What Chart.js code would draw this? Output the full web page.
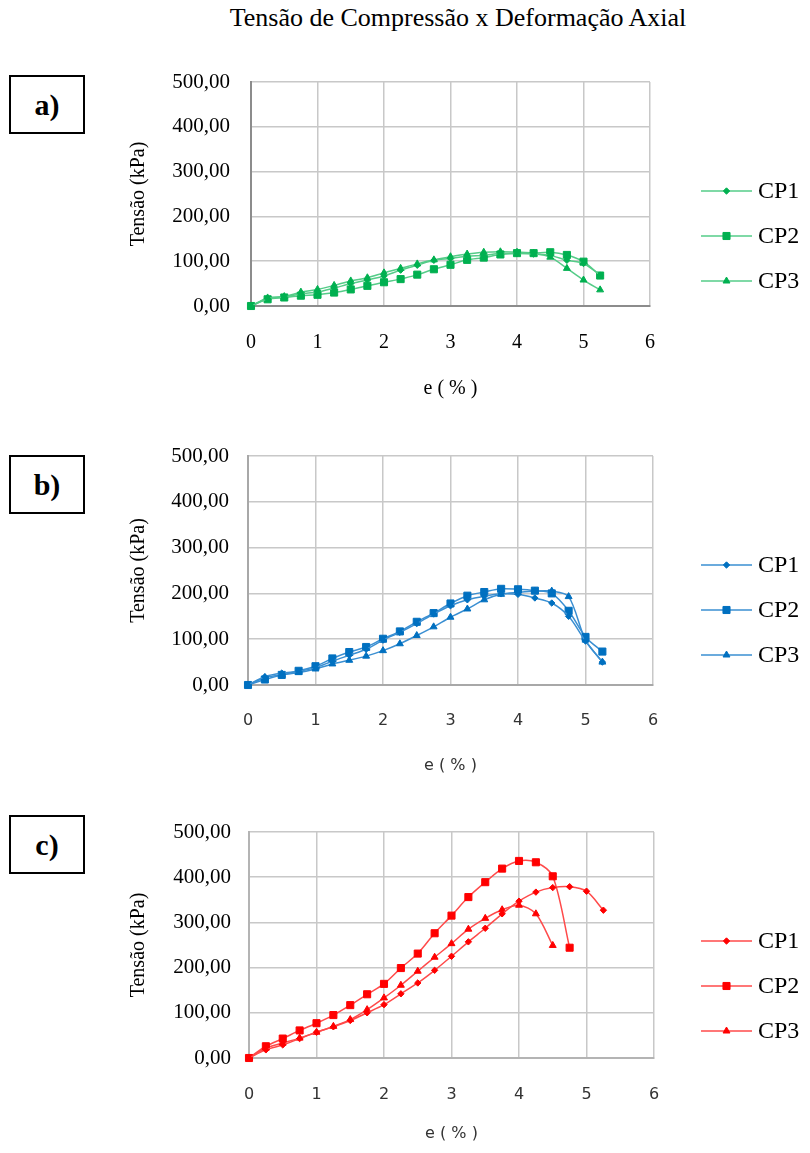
<!DOCTYPE html>
<html>
<head>
<meta charset="utf-8">
<script src="https://cdn.jsdelivr.net/npm/chart.js@4"></script>
<style>
  html, body { margin: 0; padding: 0; background: #fff; }
  #page { position: relative; width: 810px; height: 1153px; overflow: hidden; background: #fff; }
  #title {
    position: absolute; left: 458px; top: 4px; transform: translateX(-50%);
    font-family: 'Liberation Serif', 'Times New Roman', serif; font-size: 26px;
    line-height: 28px; white-space: nowrap; color: #000;
  }
  .tag {
    position: absolute; left: 9px; width: 76px; height: 59px; box-sizing: border-box;
    border: 2px solid #000; display: flex; align-items: center; justify-content: center;
    font-family: 'Liberation Serif', 'Times New Roman', serif; font-weight: bold;
    font-size: 30px; color: #000;
  }
  canvas { position: absolute; left: 0; }
</style>
</head>
<body>
<div id="page">
  <div id="title">Tensão de Compressão x Deformação Axial</div>
  <div class="tag" style="top:75px">a)</div>
  <div class="tag" style="top:455px">b)</div>
  <div class="tag" style="top:815px">c)</div>
  <canvas id="chartA" width="810" height="370" style="top:40px"></canvas>
  <canvas id="chartB" width="810" height="370" style="top:420px"></canvas>
  <canvas id="chartC" width="810" height="363" style="top:790px"></canvas>
</div>
<script>
// Axial strain e (%) at each reading
const strain = [0, 0.25, 0.5, 0.75, 1, 1.25, 1.5, 1.75, 2, 2.25, 2.5, 2.75,
                3, 3.25, 3.5, 3.75, 4, 4.25, 4.5, 4.75, 5, 5.25];

const seriesNames = ['CP1', 'CP2', 'CP3'];

// Compressive stress (kPa) – group a)
const stressA_CP1 = [0, 16, 20, 27, 31, 40, 50, 58, 67, 80, 91, 102, 106, 111, 113, 117, 117, 116, 113, 102, 95, 69];
const stressA_CP2 = [0, 15, 19, 23, 25, 30, 37, 45, 53, 60, 70, 82, 92, 103, 108, 115, 118, 118, 120, 114, 99, 68];
const stressA_CP3 = [0, 18, 21, 31, 37, 46, 56, 63, 74, 84, 94, 103, 110, 116, 120, 121, 120, 118, 109, 84, 58, 36];

// Compressive stress (kPa) – group b)
const stressB_CP1 = [0, 18, 26, 30, 38, 52, 65, 78, 98, 115, 134, 155, 173, 186, 194, 199, 198, 190, 179, 150, 96, 50];
const stressB_CP2 = [0, 12, 22, 31, 41, 58, 72, 83, 101, 117, 138, 157, 178, 195, 203, 210, 209, 206, 200, 162, 105, 73];
const stressB_CP3 = [0, 16, 22, 27, 35, 46, 54, 63, 75, 90, 108, 127, 148, 166, 186, 198, 202, 205, 205, 193, 98, 50];

// Compressive stress (kPa) – group c)
const stressC_CP1 = [0, 18, 29, 43, 57, 69, 83, 100, 118, 142, 166, 194, 225, 257, 287, 319, 347, 367, 377, 379, 369, 327];
const stressC_CP2 = [0, 26, 43, 61, 77, 95, 117, 141, 164, 199, 231, 276, 315, 356, 389, 419, 436, 433, 402, 244];
const stressC_CP3 = [0, 22, 33, 44, 57, 70, 85, 107, 133, 161, 192, 223, 253, 285, 309, 328, 338, 319, 249];

const xTicks = [0, 1, 2, 3, 4, 5, 6];
const yTicks = [0, 100, 200, 300, 400, 500];

const SERIF = "'Liberation Serif', 'Times New Roman', serif";
const SANS = "'DejaVu Sans', Verdana, sans-serif";

function toPoints(values) {
  return values.map((v, i) => ({ x: strain[i], y: v }));
}

// Marker shapes used both on the plot and in the side legend
const markerStyles = [
  { pointStyle: 'rectRot', radius: 3.2 },
  { pointStyle: 'rect', radius: 5.0 },
  { pointStyle: 'triangle', radius: 4.0 }
];

function drawMarker(ctx, style, r, x, y, color) {
  ctx.save();
  ctx.fillStyle = color;
  ctx.strokeStyle = color;
  ctx.lineWidth = 1;
  ctx.beginPath();
  if (style === 'rect') {
    const s = Math.SQRT1_2 * r;
    ctx.rect(x - s, y - s, 2 * s, 2 * s);
  } else if (style === 'rectRot') {
    ctx.moveTo(x, y - r); ctx.lineTo(x + r, y); ctx.lineTo(x, y + r); ctx.lineTo(x - r, y);
    ctx.closePath();
  } else {
    const h = r * 1.5, w = r * Math.sqrt(3) / 2;
    ctx.moveTo(x, y - r); ctx.lineTo(x + w, y + r / 2); ctx.lineTo(x - w, y + r / 2);
    ctx.closePath();
  }
  ctx.fill();
  ctx.stroke();
  ctx.restore();
}

// Side legend: short line with the marker, followed by the series name
const sideLegend = {
  id: 'sideLegend',
  afterDraw(chart, args, opts) {
    const ctx = chart.ctx;
    chart.data.datasets.forEach((ds, i) => {
      const y = opts.firstY + i * opts.gap;
      ctx.save();
      ctx.strokeStyle = ds.borderColor;
      ctx.lineWidth = ds.borderWidth;
      ctx.beginPath();
      ctx.moveTo(opts.x1, y);
      ctx.lineTo(opts.x2, y);
      ctx.stroke();
      ctx.restore();
      drawMarker(ctx, ds.pointStyle, ds.pointRadius, (opts.x1 + opts.x2) / 2, y, ds.pointBackgroundColor);
      ctx.save();
      ctx.fillStyle = '#000';
      ctx.font = '24px ' + SERIF;
      ctx.textBaseline = 'middle';
      ctx.textAlign = 'left';
      ctx.fillText(ds.label, opts.textX, y + 1);
      ctx.restore();
    });
  }
};

function buildChart(id, p) {
  const datasets = p.series.map((vals, i) => ({
    label: seriesNames[i],
    data: toPoints(vals),
    borderColor: p.lineColor,
    borderWidth: 1.5,
    backgroundColor: p.markColor,
    pointBackgroundColor: p.markColor,
    pointBorderColor: p.markColor,
    pointBorderWidth: 1,
    pointStyle: markerStyles[i].pointStyle,
    pointRadius: markerStyles[i].radius,
    tension: 0.3,
    clip: false
  }));

  return new Chart(document.getElementById(id), {
    type: 'line',
    data: { datasets },
    plugins: [sideLegend],
    options: {
      responsive: false,
      animation: false,
      devicePixelRatio: 1,
      layout: { padding: { top: p.padTop, right: p.padRight, left: 0, bottom: 0 } },
      plugins: {
        legend: { display: false },
        title: { display: false },
        tooltip: { enabled: false },
        sideLegend: { x1: 701, x2: 752, textX: 758, firstY: p.legendY, gap: 45 }
      },
      scales: {
        x: {
          type: 'linear',
          min: xTicks[0],
          max: xTicks[xTicks.length - 1],
          afterFit(scale) { scale.height = p.xAxisHeight; },
          afterBuildTicks(scale) { scale.ticks = xTicks.map(v => ({ value: v })); },
          grid: { color: '#c8c8c8', lineWidth: 1.5, drawTicks: false },
          border: { color: p.axisColor, width: 2 },
          ticks: {
            padding: p.xTickPad,
            color: p.xTickColor,
            font: { family: p.xFont, size: p.xFontSize },
            maxRotation: 0,
            callback: v => String(v)
          },
          title: {
            display: true,
            text: 'e ( % )',
            color: p.xTickColor,
            font: { family: p.xFont, size: p.xFontSize },
            padding: { top: 0, bottom: p.xTitlePad }
          }
        },
        y: {
          type: 'linear',
          min: yTicks[0],
          max: yTicks[yTicks.length - 1],
          afterFit(scale) { scale.width = p.yAxisWidth; },
          afterBuildTicks(scale) { scale.ticks = yTicks.map(v => ({ value: v })); },
          grid: { color: '#c8c8c8', lineWidth: 1.5, drawTicks: false },
          border: { color: p.axisColor, width: 2 },
          ticks: {
            padding: p.yTickPad,
            color: '#000',
            font: { family: SERIF, size: 21 },
            callback: v => v.toFixed(2).replace('.', ',')
          },
          title: {
            display: true,
            text: 'Tensão (kPa)',
            color: '#000',
            font: { family: SERIF, size: 20 },
            padding: { top: 127, bottom: 0 }
          }
        }
      }
    }
  });
}

buildChart('chartA', {
  series: [stressA_CP1, stressA_CP2, stressA_CP3],
  markColor: '#00b050', lineColor: '#55cc88', axisColor: '#8c8c8c',
  padTop: 42, padRight: 160, yAxisWidth: 251, xAxisHeight: 104,
  yTickPad: 21, xTickPad: 25, xTitlePad: 9,
  xFont: SERIF, xFontSize: 20, xTickColor: '#000',
  legendY: 151
});

buildChart('chartB', {
  series: [stressB_CP1, stressB_CP2, stressB_CP3],
  markColor: '#0070c0', lineColor: '#3a8fd2', axisColor: '#a8a8a8',
  padTop: 36, padRight: 157, yAxisWidth: 248, xAxisHeight: 105,
  yTickPad: 19, xTickPad: 26, xTitlePad: 15,
  xFont: SANS, xFontSize: 16, xTickColor: '#333',
  legendY: 145
});

buildChart('chartC', {
  series: [stressC_CP1, stressC_CP2, stressC_CP3],
  markColor: '#ff0000', lineColor: '#ff4a4a', axisColor: '#b4b4b4',
  padTop: 42, padRight: 156, yAxisWidth: 249, xAxisHeight: 95,
  yTickPad: 18, xTickPad: 27, xTitlePad: 10,
  xFont: SANS, xFontSize: 16, xTickColor: '#333',
  legendY: 151
});
</script>
</body>
</html>
